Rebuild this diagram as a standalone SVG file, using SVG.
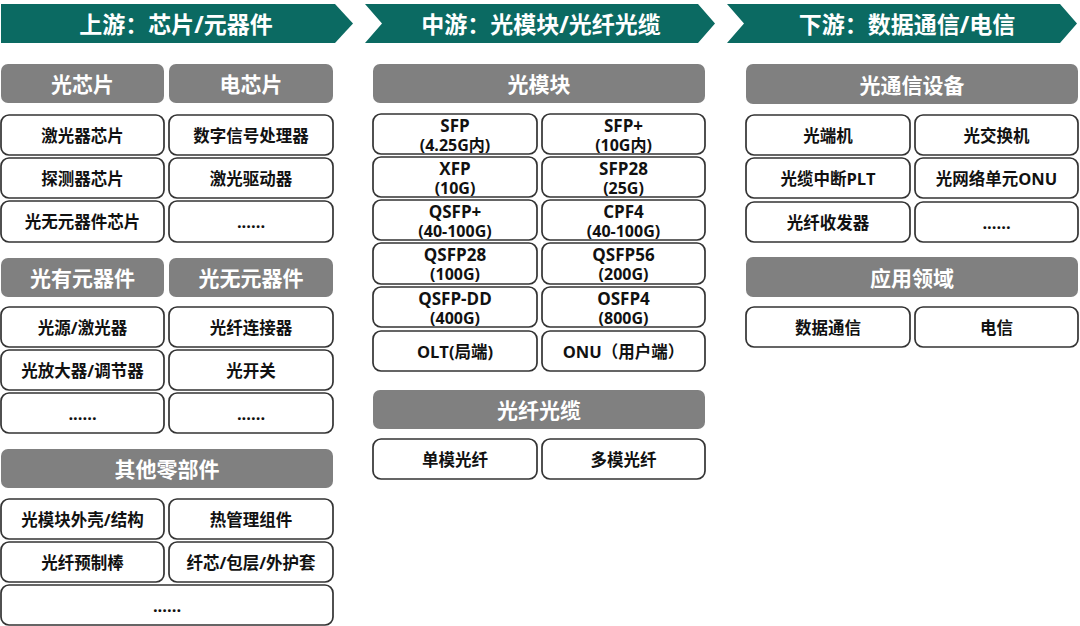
<svg xmlns="http://www.w3.org/2000/svg" width="1080" height="626" viewBox="0 0 1080 626">
<style>
text{font-family:"Open Sans","Noto Sans CJK SC",sans-serif;font-weight:bold;text-anchor:middle}
.arrow{fill:#0B6A62}
.ht{fill:#fff;font-size:23px;dominant-baseline:central}
.cat rect{fill:#808080}
.cat text{fill:#fff;font-size:21px;dominant-baseline:central}
.item rect{fill:#fff;stroke:#333;stroke-width:1.7}
.item text{fill:#111;font-size:16.5px;dominant-baseline:central}
.item text.l1{dominant-baseline:auto;font-size:17px}
.item text.l2{dominant-baseline:auto;font-size:16px}
</style>
<rect width="1080" height="626" fill="#fff"/>
<g id="stage-upstream">
<polygon class="arrow" points="1,4 335,4 353,23.5 335,43 1,43"/>
<text class="ht" x="176" y="24">上游：芯片/元器件</text>
</g>
<g id="stage-midstream">
<polygon class="arrow" points="365,4 698,4 715,23.5 698,43 365,43 382,23.5"/>
<text class="ht" x="541" y="24">中游：光模块/光纤光缆</text>
</g>
<g id="stage-downstream">
<polygon class="arrow" points="727,4 1060,4 1077,23.5 1060,43 727,43 744,23.5"/>
<text class="ht" x="907" y="24">下游：数据通信/电信</text>
</g>

<!-- Left column -->
<g id="cat-optical-chip" class="cat"><rect x="1" y="64" width="163" height="39" rx="7"/><text x="82.5" y="84">光芯片</text></g>
<g id="cat-electrical-chip" class="cat"><rect x="169" y="64" width="164" height="39" rx="7"/><text x="251" y="84">电芯片</text></g>
<g id="item-laser-chip" class="item"><rect x="1" y="115" width="163" height="40" rx="8"/><text x="82.5" y="135">激光器芯片</text></g>
<g id="item-dsp" class="item"><rect x="169" y="115" width="164" height="40" rx="8"/><text x="251" y="135">数字信号处理器</text></g>
<g id="item-detector-chip" class="item"><rect x="1" y="158" width="163" height="40" rx="8"/><text x="82.5" y="178">探测器芯片</text></g>
<g id="item-laser-driver" class="item"><rect x="169" y="158" width="164" height="40" rx="8"/><text x="251" y="178">激光驱动器</text></g>
<g id="item-passive-chip" class="item"><rect x="1" y="201" width="163" height="41" rx="8"/><text x="82.5" y="221.5">光无元器件芯片</text></g>
<g id="item-chip-more" class="item"><rect x="169" y="201" width="164" height="41" rx="8"/><text x="251" y="221.5">......</text></g>

<g id="cat-active" class="cat"><rect x="1" y="258" width="163" height="39" rx="7"/><text x="82.5" y="278">光有元器件</text></g>
<g id="cat-passive" class="cat"><rect x="169" y="258" width="164" height="39" rx="7"/><text x="251" y="278">光无元器件</text></g>
<g id="item-light-source" class="item"><rect x="1" y="307" width="163" height="40" rx="8"/><text x="82.5" y="327">光源/激光器</text></g>
<g id="item-fiber-connector" class="item"><rect x="169" y="307" width="164" height="40" rx="8"/><text x="251" y="327">光纤连接器</text></g>
<g id="item-amplifier" class="item"><rect x="1" y="350" width="163" height="40" rx="8"/><text x="82.5" y="370">光放大器/调节器</text></g>
<g id="item-switch" class="item"><rect x="169" y="350" width="164" height="40" rx="8"/><text x="251" y="370">光开关</text></g>
<g id="item-active-more" class="item"><rect x="1" y="393" width="163" height="40" rx="8"/><text x="82.5" y="413">......</text></g>
<g id="item-passive-more" class="item"><rect x="169" y="393" width="164" height="40" rx="8"/><text x="251" y="413">......</text></g>

<g id="cat-other" class="cat"><rect x="1" y="449" width="332" height="39" rx="7"/><text x="167" y="469">其他零部件</text></g>
<g id="item-housing" class="item"><rect x="1" y="499" width="163" height="40" rx="8"/><text x="82.5" y="519">光模块外壳/结构</text></g>
<g id="item-thermal" class="item"><rect x="169" y="499" width="164" height="40" rx="8"/><text x="251" y="519">热管理组件</text></g>
<g id="item-preform" class="item"><rect x="1" y="542" width="163" height="40" rx="8"/><text x="82.5" y="562">光纤预制棒</text></g>
<g id="item-core" class="item"><rect x="169" y="542" width="164" height="40" rx="8"/><text x="251" y="562">纤芯/包层/外护套</text></g>
<g id="item-other-more" class="item"><rect x="1" y="585" width="332" height="40" rx="8"/><text x="167" y="605">......</text></g>

<!-- Middle column -->
<g id="cat-module" class="cat"><rect x="373" y="64" width="332" height="39" rx="7"/><text x="539" y="84">光模块</text></g>
<g id="item-sfp" class="item"><rect x="373" y="114" width="164" height="40" rx="8"/><text class="l1" x="455" y="131.5">SFP</text><text class="l2" x="455" y="150.5">(4.25G内)</text></g>
<g id="item-sfp-plus" class="item"><rect x="542" y="114" width="163" height="40" rx="8"/><text class="l1" x="623.5" y="131.5">SFP+</text><text class="l2" x="623.5" y="150.5">(10G内)</text></g>
<g id="item-xfp" class="item"><rect x="373" y="157" width="164" height="40" rx="8"/><text class="l1" x="455" y="174.5">XFP</text><text class="l2" x="455" y="193.5">(10G)</text></g>
<g id="item-sfp28" class="item"><rect x="542" y="157" width="163" height="40" rx="8"/><text class="l1" x="623.5" y="174.5">SFP28</text><text class="l2" x="623.5" y="193.5">(25G)</text></g>
<g id="item-qsfp-plus" class="item"><rect x="373" y="200" width="164" height="40" rx="8"/><text class="l1" x="455" y="217.5">QSFP+</text><text class="l2" x="455" y="236.5">(40-100G)</text></g>
<g id="item-cpf4" class="item"><rect x="542" y="200" width="163" height="40" rx="8"/><text class="l1" x="623.5" y="217.5">CPF4</text><text class="l2" x="623.5" y="236.5">(40-100G)</text></g>
<g id="item-qsfp28" class="item"><rect x="373" y="243" width="164" height="41" rx="8"/><text class="l1" x="455" y="260.5">QSFP28</text><text class="l2" x="455" y="279.5">(100G)</text></g>
<g id="item-qsfp56" class="item"><rect x="542" y="243" width="163" height="41" rx="8"/><text class="l1" x="623.5" y="260.5">QSFP56</text><text class="l2" x="623.5" y="279.5">(200G)</text></g>
<g id="item-qsfp-dd" class="item"><rect x="373" y="287" width="164" height="40" rx="8"/><text class="l1" x="455" y="304.5">QSFP-DD</text><text class="l2" x="455" y="323.5">(400G)</text></g>
<g id="item-osfp4" class="item"><rect x="542" y="287" width="163" height="40" rx="8"/><text class="l1" x="623.5" y="304.5">OSFP4</text><text class="l2" x="623.5" y="323.5">(800G)</text></g>
<g id="item-olt" class="item"><rect x="373" y="331" width="164" height="40" rx="8"/><text x="455" y="351">OLT(局端)</text></g>
<g id="item-onu" class="item"><rect x="542" y="331" width="163" height="40" rx="8"/><text x="623.5" y="351">ONU（用户端）</text></g>
<g id="cat-fiber-cable" class="cat"><rect x="373" y="390" width="332" height="39" rx="7"/><text x="539" y="410">光纤光缆</text></g>
<g id="item-single-mode" class="item"><rect x="373" y="439" width="164" height="40" rx="8"/><text x="455" y="459">单模光纤</text></g>
<g id="item-multi-mode" class="item"><rect x="542" y="439" width="163" height="40" rx="8"/><text x="623.5" y="459">多模光纤</text></g>

<!-- Right column -->
<g id="cat-equipment" class="cat"><rect x="746" y="64" width="332" height="40" rx="7"/><text x="912" y="84.5">光通信设备</text></g>
<g id="item-terminal" class="item"><rect x="746" y="115" width="164" height="40" rx="8"/><text x="828" y="135">光端机</text></g>
<g id="item-optical-switch" class="item"><rect x="915" y="115" width="163" height="40" rx="8"/><text x="996.5" y="135">光交换机</text></g>
<g id="item-plt" class="item"><rect x="746" y="158" width="164" height="40" rx="8"/><text x="828" y="178">光缆中断PLT</text></g>
<g id="item-onu-unit" class="item"><rect x="915" y="158" width="163" height="40" rx="8"/><text x="996.5" y="178">光网络单元ONU</text></g>
<g id="item-transceiver" class="item"><rect x="746" y="202" width="164" height="40" rx="8"/><text x="828" y="222">光纤收发器</text></g>
<g id="item-equip-more" class="item"><rect x="915" y="202" width="163" height="40" rx="8"/><text x="996.5" y="222">......</text></g>
<g id="cat-application" class="cat"><rect x="746" y="257" width="332" height="40" rx="7"/><text x="912" y="277.5">应用领域</text></g>
<g id="item-datacom" class="item"><rect x="746" y="307" width="164" height="40" rx="8"/><text x="828" y="327">数据通信</text></g>
<g id="item-telecom" class="item"><rect x="915" y="307" width="163" height="40" rx="8"/><text x="996.5" y="327">电信</text></g>
</svg>
